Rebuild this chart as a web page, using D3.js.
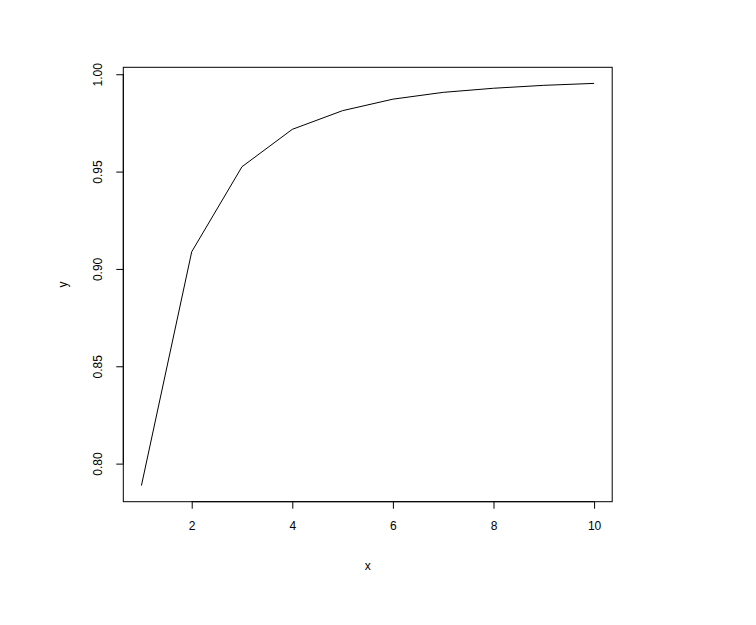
<!DOCTYPE html>
<html><head><meta charset="utf-8">
<script src="https://cdn.jsdelivr.net/npm/d3@7"></script>
<style>body{margin:0;background:#fff}svg{display:block}text{font-family:"Liberation Sans",Arial,sans-serif;font-size:12px;fill:#000}</style>
</head><body>
<svg id="c" width="756" height="625"></svg>
<script>
const xs = [1,2,3,4,5,6,7,8,9,10];
const ys = [0.7887,0.9088,0.9525,0.9717,0.9813,0.9872,0.9907,0.9928,0.9943,0.9953];
const xTicks = [2,4,6,8,10];
const yTicks = [0.80,0.85,0.90,0.95,1.00];
const yTickLabels = ["0.80","0.85","0.90","0.95","1.00"];

const L=123.3,R=612.2,T=67.3,B=501.7;
const svg=d3.select("#c");
const xr=d3.extent(xs), yr=d3.extent(ys);
const px=(xr[1]-xr[0])*0.04, py=(yr[1]-yr[0])*0.04;
const x=d3.scaleLinear().domain([xr[0]-px,xr[1]+px]).range([L,R]);
const y=d3.scaleLinear().domain([yr[0]-py,yr[1]+py]).range([B,T]);

svg.append("path").datum(xs.map((d,i)=>[d,ys[i]]))
  .attr("d",d3.line().x(d=>x(d[0])).y(d=>y(d[1])))
  .attr("fill","none").attr("stroke","#000").attr("stroke-width",1);

svg.append("rect").attr("x",L).attr("y",T).attr("width",R-L).attr("height",B-T)
  .attr("fill","none").attr("stroke","#000").attr("stroke-width",1);

const xa=svg.append("g").attr("transform",`translate(0,${B})`)
  .call(d3.axisBottom(x).tickValues(xTicks).tickSize(7).tickPadding(13).tickFormat(d3.format("d")));
xa.select(".domain").attr("d",`M${x(xTicks[0])},0H${x(xTicks[xTicks.length-1])}`);
xa.selectAll("text").style("font-size","12px").style("font-family",'"Liberation Sans",Arial,sans-serif');

const ya=svg.append("g").attr("transform",`translate(${L},0)`)
  .call(d3.axisLeft(y).tickValues(yTicks).tickSize(7).tickFormat((d,i)=>yTickLabels[i]));
ya.select(".domain").attr("d",`M0,${y(yTicks[0])}V${y(yTicks[yTicks.length-1])}`);
ya.selectAll(".tick text").attr("x",null).attr("dy",null)
  .attr("transform","translate(-25,0) rotate(-90)").attr("text-anchor","middle").attr("dominant-baseline","central")
  .style("font-size","12px").style("font-family",'"Liberation Sans",Arial,sans-serif');

svg.append("text").attr("x",(L+R)/2).attr("y",570).attr("text-anchor","middle").text("x");
svg.append("text").attr("transform",`translate(67,${(T+B)/2}) rotate(-90)`).attr("text-anchor","middle").text("y");
</script>
</body></html>
